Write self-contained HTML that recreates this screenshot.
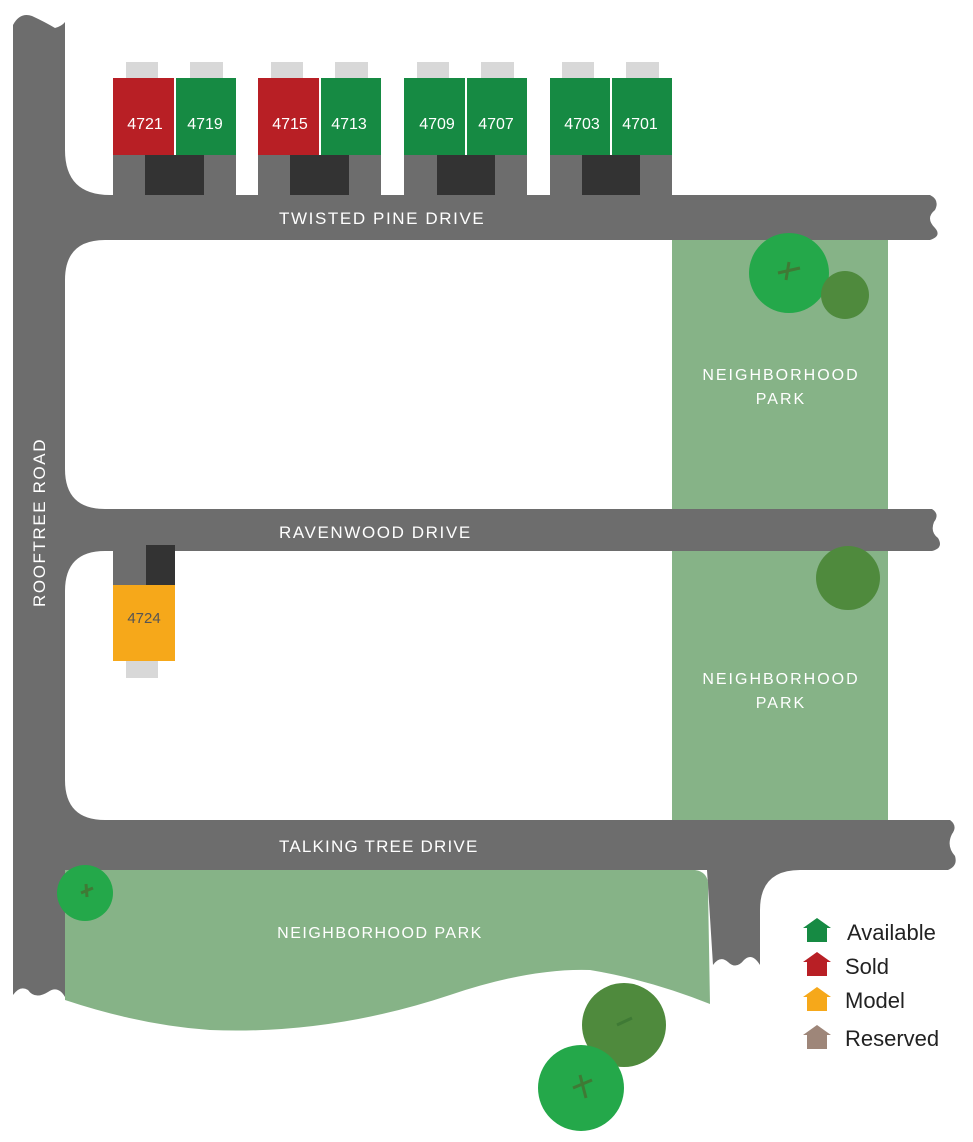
<!DOCTYPE html>
<html><head><meta charset="utf-8"><style>
html,body{margin:0;padding:0;background:#fff;}
svg{display:block}
text{font-family:"Liberation Sans",sans-serif;}
</style></head><body>
<svg width="973" height="1142" viewBox="0 0 973 1142" xmlns="http://www.w3.org/2000/svg">
<g fill="#6d6d6d">
<path d="M13 25 Q20 12 32 16 Q45 22 55 28 Q62 26 65 22 L65 997 Q58 985 48 992 Q35 1000 28 990 Q20 985 13 995 Z"/>
<path d="M13 195 L930 195 Q940 200 935 210 Q925 218 935 228 Q942 236 930 240 L13 240 Z"/>
<path d="M65 150 Q65 195 110 195 L65 195 Z"/>
<path d="M13 509 L932 509 Q940 514 934 522 Q930 532 938 538 Q944 548 932 551 L13 551 Z"/>
<path d="M13 820 L950 820 Q958 826 952 834 Q946 846 955 856 Q958 866 948 870 L13 870 Z"/>
<path d="M707 870 L760 870 L760 965 Q752 952 744 960 Q736 970 728 962 Q720 955 713 965 Z"/>
</g>
<path d="M65 240 L105 240 Q65 240 65 280 Z" fill="#6d6d6d"/>
<path d="M65 469 Q65 509 105 509 L65 509 Z" fill="#6d6d6d"/>
<path d="M65 551 L105 551 Q65 551 65 591 Z" fill="#6d6d6d"/>
<path d="M65 780 Q65 820 105 820 L65 820 Z" fill="#6d6d6d"/>
<path d="M760 870 L800 870 Q760 870 760 910 Z" fill="#6d6d6d"/>
<rect x="672" y="240" width="216" height="269" fill="#86b387"/>
<rect x="672" y="551" width="216" height="269" fill="#86b387"/>
<path d="M65 870 L695 870 Q710 872 708 890 L710 1004 Q650 980 590 970 Q530 968 450 995 Q330 1035 210 1030 Q140 1025 65 1000 Z" fill="#86b387"/>
<g>
<circle cx="789" cy="273" r="40" fill="#24a84a"/>
<circle cx="845" cy="295" r="24" fill="#4f8a3d"/>
<circle cx="848" cy="578" r="32" fill="#4f8a3d"/>
<circle cx="85" cy="893" r="28" fill="#24a84a"/>
<circle cx="624" cy="1025" r="42" fill="#4f8a3d"/>
<circle cx="581" cy="1088" r="43" fill="#24a84a"/>
<g stroke="#3f7a35" stroke-width="3" fill="none">
<path d="M778 273 L800 268 M789 262 L786 280"/>
<path d="M81 893 L93 888 M86 884 L87 897"/>
<path d="M573 1088 L592 1080 M580 1075 L586 1098"/>
<path d="M617 1025 L632 1018"/>
</g>
</g>
<g>
<g fill="#d8d8d8">
<rect x="126" y="62" width="32" height="16"/><rect x="190" y="62" width="33" height="16"/>
<rect x="271" y="62" width="32" height="16"/><rect x="335" y="62" width="33" height="16"/>
<rect x="417" y="62" width="32" height="16"/><rect x="481" y="62" width="33" height="16"/>
<rect x="562" y="62" width="32" height="16"/><rect x="626" y="62" width="33" height="16"/>
<rect x="126" y="661" width="32" height="17"/>
</g>
<g fill="#6d6d6d">
<rect x="113" y="155" width="123" height="40"/><rect x="258" y="155" width="123" height="40"/>
<rect x="404" y="155" width="123" height="40"/><rect x="550" y="155" width="122" height="40"/>
<rect x="113" y="551" width="40" height="34"/>
</g>
<g fill="#333">
<rect x="145" y="155" width="59" height="40"/><rect x="290" y="155" width="59" height="40"/>
<rect x="437" y="155" width="58" height="40"/><rect x="582" y="155" width="58" height="40"/>
<rect x="146" y="545" width="29" height="40"/>
</g>
<rect x="113" y="78" width="61" height="77" fill="#b81f25"/>
<rect x="176" y="78" width="60" height="77" fill="#168a43"/>
<rect x="258" y="78" width="61" height="77" fill="#b81f25"/>
<rect x="321" y="78" width="60" height="77" fill="#168a43"/>
<rect x="404" y="78" width="61" height="77" fill="#168a43"/>
<rect x="467" y="78" width="60" height="77" fill="#168a43"/>
<rect x="550" y="78" width="60" height="77" fill="#168a43"/>
<rect x="612" y="78" width="60" height="77" fill="#168a43"/>
<rect x="113" y="585" width="62" height="76" fill="#f6a81a"/>
<g fill="#fff" font-size="16" text-anchor="middle">
<text x="145" y="129">4721</text><text x="205" y="129">4719</text>
<text x="290" y="129">4715</text><text x="349" y="129">4713</text>
<text x="437" y="129">4709</text><text x="496" y="129">4707</text>
<text x="582" y="129">4703</text><text x="640" y="129">4701</text>
</g>
<text x="144" y="623" fill="#555" font-size="15" text-anchor="middle">4724</text>
</g>
<g fill="#fff" font-size="17" letter-spacing="1.6">
<text x="279" y="224">TWISTED PINE DRIVE</text>
<text x="279" y="538">RAVENWOOD DRIVE</text>
<text x="279" y="852" letter-spacing="1.2">TALKING TREE DRIVE</text>
<text x="45" y="607" transform="rotate(-90 45 607)">ROOFTREE ROAD</text>
</g>
<g fill="#fff" font-size="16" letter-spacing="2" text-anchor="middle">
<text x="781" y="380">NEIGHBORHOOD</text><text x="781" y="404">PARK</text>
<text x="781" y="684">NEIGHBORHOOD</text><text x="781" y="708">PARK</text>
<text x="380" y="938" letter-spacing="1.5">NEIGHBORHOOD PARK</text>
</g>
<g>
<path d="M803 928 L817 918 L831 928 L827 928 L827 942 L807 942 L807 928 Z" fill="#168a43"/>
<path d="M803 962 L817 952 L831 962 L827 962 L827 976 L807 976 L807 962 Z" fill="#b81f25"/>
<path d="M803 997 L817 987 L831 997 L827 997 L827 1011 L807 1011 L807 997 Z" fill="#f6a81a"/>
<path d="M803 1035 L817 1025 L831 1035 L827 1035 L827 1049 L807 1049 L807 1035 Z" fill="#9e8679"/>
<g fill="#222" font-size="22">
<text x="847" y="940">Available</text>
<text x="845" y="974">Sold</text>
<text x="845" y="1008">Model</text>
<text x="845" y="1046">Reserved</text>
</g>
</g>
</svg>
</body></html>
